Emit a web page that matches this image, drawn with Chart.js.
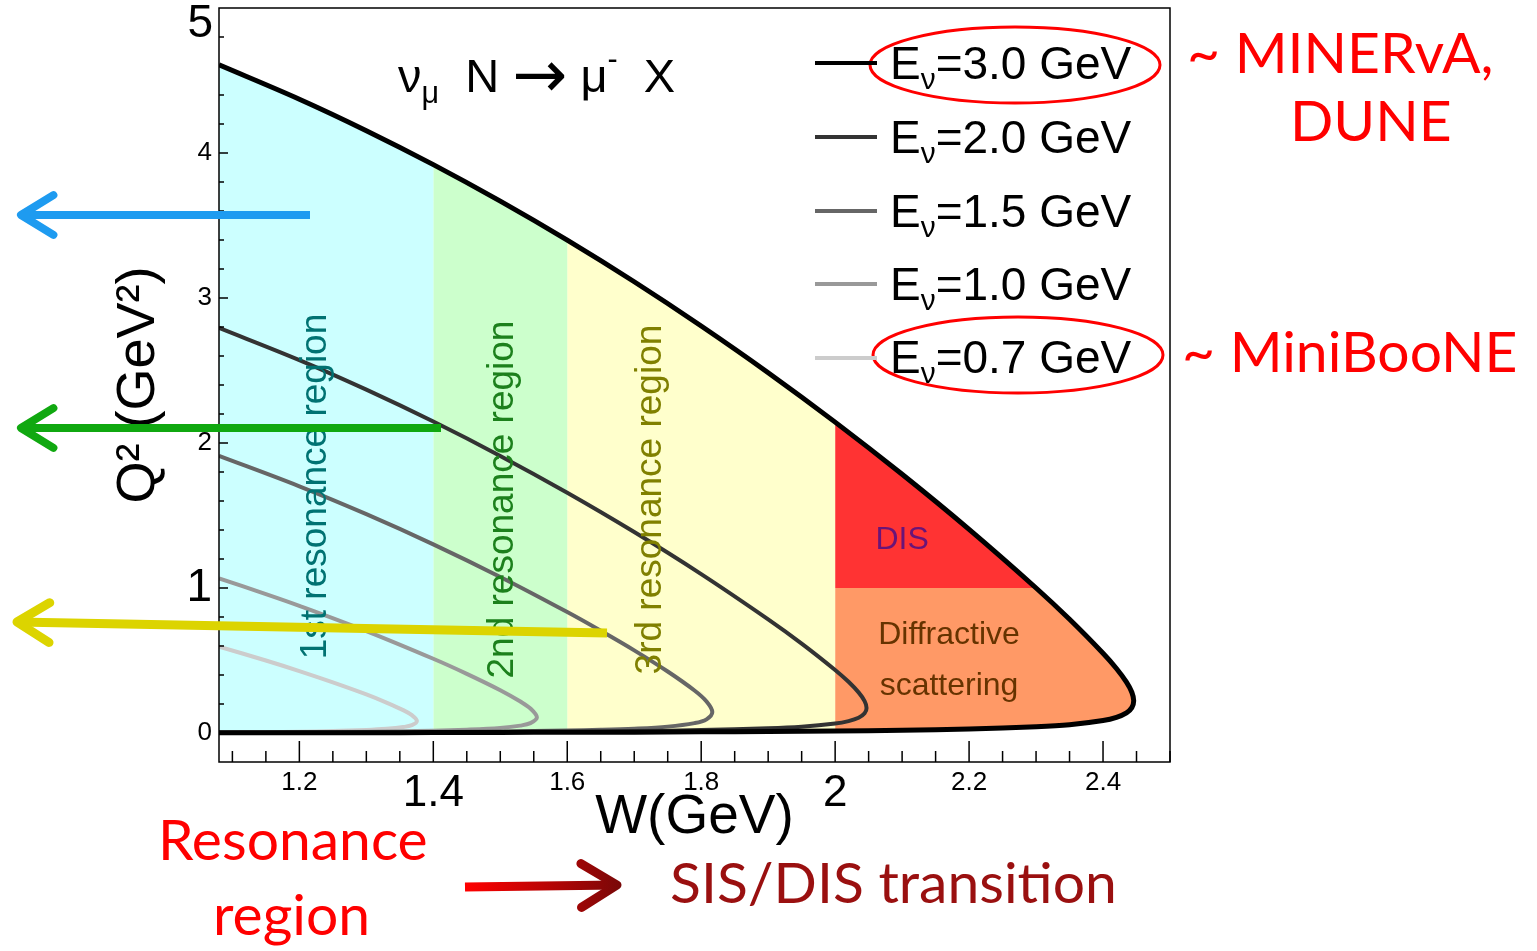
<!DOCTYPE html>
<html>
<head>
<meta charset="UTF-8">
<title>νμ N → μ- X kinematic region</title>
<script src="https://cdn.jsdelivr.net/npm/chart.js"></script>
<style>
  body { margin: 0; background: #fff; }
  #wrap { position: relative; width: 1537px; height: 951px; overflow: hidden; }
  #chart { position: absolute; left: 0; top: 0; }
  .note { position: absolute; white-space: nowrap; line-height: 1; }
  .note sub { font-size: 65%; vertical-align: -0.35em; line-height: 0; }
  .note sup { font-size: 65%; vertical-align: 0.75em; line-height: 0; }
  .note .arr { font-family: "DejaVu Sans", sans-serif; font-size: 140%; vertical-align: -0.08em; line-height: 0; }
  .bl { display: inline-block; width: 0; height: 0; }
  .sw { position: absolute; left: 815px; width: 62px; }
  .helv { font-family: "Liberation Sans", Arial, sans-serif; color: #000; }
  .cal { font-family: Lato, "Open Sans", sans-serif; }
</style>
</head>
<body>
<div id="wrap">
  <canvas id="chart" width="1537" height="951"></canvas>
</div>
<script>
  // kinematic limits (upper / lower Q2 branch) vs W
  const energies = [3.0, 2.0, 1.5, 1.0, 0.7];

  const w30     = [1.08, 1.2, 1.3, 1.4, 1.5, 1.6, 1.7, 1.8, 1.9, 2.0, 2.1, 2.2, 2.3, 2.35, 2.4, 2.42, 2.435, 2.443, 2.4458];
  const q2max30 = [4.608, 4.371, 4.154, 3.920, 3.668, 3.399, 3.112, 2.807, 2.485, 2.144, 1.784, 1.404, 1.000, 0.784, 0.550, 0.445, 0.351, 0.281, 0.222];
  const q2min30 = [0.001, 0.001, 0.002, 0.003, 0.004, 0.005, 0.006, 0.008, 0.011, 0.014, 0.019, 0.027, 0.043, 0.057, 0.086, 0.108, 0.139, 0.175, 0.222];

  const w20     = [1.08, 1.2, 1.3, 1.4, 1.5, 1.6, 1.7, 1.8, 1.9, 1.95, 2.0, 2.02, 2.035, 2.044, 2.0469];
  const q2max20 = [2.794, 2.572, 2.368, 2.148, 1.911, 1.657, 1.386, 1.096, 0.784, 0.617, 0.435, 0.353, 0.280, 0.220, 0.173];
  const q2min20 = [0.001, 0.002, 0.003, 0.005, 0.007, 0.009, 0.013, 0.020, 0.032, 0.043, 0.065, 0.082, 0.105, 0.136, 0.173];

  const w15     = [1.08, 1.2, 1.3, 1.4, 1.5, 1.6, 1.65, 1.7, 1.75, 1.79, 1.808, 1.8166];
  const q2max15 = [1.911, 1.701, 1.509, 1.301, 1.076, 0.834, 0.705, 0.570, 0.424, 0.293, 0.217, 0.144];
  const q2min15 = [0.001, 0.003, 0.005, 0.007, 0.011, 0.017, 0.022, 0.030, 0.044, 0.068, 0.094, 0.144];

  const w10     = [1.08, 1.15, 1.2, 1.3, 1.4, 1.45, 1.5, 1.53, 1.545, 1.5547];
  const q2max10 = [1.066, 0.958, 0.877, 0.703, 0.512, 0.408, 0.295, 0.217, 0.169, 0.108];
  const q2min10 = [0.002, 0.004, 0.005, 0.009, 0.016, 0.023, 0.035, 0.051, 0.068, 0.108];

  const w07     = [1.08, 1.15, 1.2, 1.25, 1.3, 1.33, 1.355, 1.368, 1.3755];
  const q2max07 = [0.596, 0.500, 0.427, 0.349, 0.266, 0.210, 0.158, 0.123, 0.083];
  const q2min07 = [0.003, 0.006, 0.009, 0.013, 0.021, 0.029, 0.041, 0.054, 0.083];

  const xTicks = [1.2, 1.4, 1.6, 1.8, 2.0, 2.2, 2.4];
  const yTicks = [0, 1, 2, 3, 4];
  const regionEdges = [1.08, 1.4, 1.6, 2.0];   // 1st / 2nd / 3rd resonance / W > 2
  const disQ2 = 1.0;                            // DIS above, diffractive below

  const HELV = '"Liberation Sans", Arial, sans-serif';
  const lineColors = ['#000000', '#333333', '#666666', '#999999', '#cccccc'];
  const lineWidths = [5, 4, 4, 4, 4];
  const regionColors = ['#ccffff', '#ccffcc', '#ffffcc', '#ff3333', '#ff9966'];
  const bigX = [1.4, 2.0];
  const bigY = [1];

  const curves = [
    { w: w30, hi: q2max30, lo: q2min30 },
    { w: w20, hi: q2max20, lo: q2min20 },
    { w: w15, hi: q2max15, lo: q2min15 },
    { w: w10, hi: q2max10, lo: q2min10 },
    { w: w07, hi: q2max07, lo: q2min07 }
  ];

  // upper branch left->right, then lower branch back
  function outline(c) {
    const pts = c.w.map((x, i) => ({ x, y: c.hi[i] }));
    for (let i = c.w.length - 2; i >= 0; i--) pts.push({ x: c.w[i], y: c.lo[i] });
    return pts;
  }

  // slice of the 3 GeV region between two W values
  function band(a, b) {
    const idx = w30.map((_, i) => i).filter(i => w30[i] >= a - 1e-9 && w30[i] <= b + 1e-9);
    const top = idx.map(i => ({ x: w30[i], y: q2max30[i] }));
    const bot = idx.slice().reverse().map(i => ({ x: w30[i], y: q2min30[i] }));
    return top.concat(bot);
  }

  const wDis = regionEdges[3];
  const disPts = w30.map((x, i) => ({ x, y: q2max30[i] }))
    .filter(p => p.x >= wDis && p.y >= disQ2);
  disPts.push({ x: wDis, y: disQ2 });

  const diffPts = [{ x: wDis, y: disQ2 }];
  w30.forEach((x, i) => { if (x >= wDis && q2max30[i] <= disQ2) diffPts.push({ x, y: q2max30[i] }); });
  for (let i = w30.length - 2; i >= 0; i--) if (w30[i] >= wDis) diffPts.push({ x: w30[i], y: q2min30[i] });

  const regionData = [
    band(regionEdges[0], regionEdges[1]),
    band(regionEdges[1], regionEdges[2]),
    band(regionEdges[2], regionEdges[3]),
    disPts,
    diffPts
  ];

  const datasets = [];
  regionData.forEach((pts, i) => datasets.push({
    data: pts, showLine: true, fill: 'shape', backgroundColor: regionColors[i],
    borderWidth: 0, pointRadius: 0, tension: 0, order: 2
  }));
  curves.forEach((c, i) => datasets.push({
    label: 'Eν=' + energies[i].toFixed(1) + ' GeV',
    data: outline(c), showLine: true, fill: false, borderColor: lineColors[i],
    borderWidth: lineWidths[i], pointRadius: 0, tension: 0.35, order: 1
  }));

  const overlay = {
    id: 'overlay',
    afterDatasetsDraw(chart) {
      const { ctx, chartArea: a, scales: { x, y } } = chart;
      ctx.save();
      ctx.strokeStyle = '#000';
      ctx.lineWidth = 1.5;
      ctx.beginPath();
      for (let k = 22; k <= 50; k++) {
        const px = x.getPixelForValue(k * 0.05);
        const len = k % 4 === 0 ? 21 : 11;
        ctx.moveTo(px, a.bottom); ctx.lineTo(px, a.bottom - len);
      }
      for (let k = 0; k <= 24; k++) {
        const py = y.getPixelForValue(k * 0.2);
        const len = k % 5 === 0 ? 9 : 5;
        ctx.moveTo(a.left, py); ctx.lineTo(a.left + len, py);
      }
      ctx.stroke();
      ctx.strokeRect(a.left, a.top, a.right - a.left, a.bottom - a.top);

      function vtext(s, wx, qy, color, size) {
        ctx.save();
        ctx.translate(x.getPixelForValue(wx), y.getPixelForValue(qy));
        ctx.rotate(-Math.PI / 2);
        ctx.fillStyle = color;
        ctx.font = size + 'px ' + HELV;
        ctx.textAlign = 'center'; ctx.textBaseline = 'middle';
        ctx.fillText(s, 0, 0);
        ctx.restore();
      }
      function htext(s, wx, qy, color, size) {
        ctx.fillStyle = color;
        ctx.font = size + 'px ' + HELV;
        ctx.textAlign = 'center'; ctx.textBaseline = 'middle';
        ctx.fillText(s, x.getPixelForValue(wx), y.getPixelForValue(qy));
      }
      vtext('1st resonance region', 1.225, 1.70, '#007272', 37);
      vtext('2nd resonance region', 1.5045, 1.61, '#1c801c', 37);
      vtext('3rd resonance region', 1.724, 1.61, '#808000', 37);
      htext('DIS', 2.1, 1.33, '#6a1478', 32);
      htext('Diffractive', 2.17, 0.676, '#663300', 32);
      htext('scattering', 2.17, 0.324, '#663300', 32);

      // enlarged "5" on the y axis
      ctx.fillStyle = '#000';
      ctx.font = '46px ' + HELV;
      ctx.textAlign = 'right'; ctx.textBaseline = 'middle';
      ctx.fillText('5', a.left - 6, y.getPixelForValue(5) + 16);
      ctx.restore();
    },
    afterDraw(chart) {
      const ctx = chart.ctx;
      ctx.save();
      ctx.strokeStyle = '#ff0000';
      ctx.lineWidth = 3;
      ctx.beginPath(); ctx.ellipse(1015, 65, 145, 38, 0, 0, 2 * Math.PI); ctx.stroke();
      ctx.beginPath(); ctx.ellipse(1018, 355, 145, 38, 0, 0, 2 * Math.PI); ctx.stroke();

      function arrow(x0, y0, x1, y1, color, w, head) {
        ctx.strokeStyle = color; ctx.lineWidth = w;
        ctx.lineCap = 'butt';
        ctx.beginPath(); ctx.moveTo(x0, y0); ctx.lineTo(x1, y1); ctx.stroke();
        const ang = Math.atan2(y1 - y0, x1 - x0);
        ctx.lineCap = 'round'; ctx.lineJoin = 'round';
        ctx.beginPath();
        ctx.moveTo(x1 - head * Math.cos(ang - 0.55), y1 - head * Math.sin(ang - 0.55));
        ctx.lineTo(x1, y1);
        ctx.lineTo(x1 - head * Math.cos(ang + 0.55), y1 - head * Math.sin(ang + 0.55));
        ctx.stroke();
      }
      arrow(310, 215, 21, 215, '#1e9bf0', 8, 38);
      arrow(441, 428, 21, 428, '#10a810', 8, 38);
      arrow(607, 633, 17, 622, '#dcd400', 9, 38);

      const g = ctx.createLinearGradient(465, 0, 620, 0);
      g.addColorStop(0, '#ff0000');
      g.addColorStop(1, '#7a0808');
      arrow(465, 887, 617, 885, g, 9, 42);
      ctx.restore();
    }
  };

  Chart.defaults.color = '#000';
  new Chart(document.getElementById('chart'), {
    type: 'scatter',
    data: { datasets },
    options: {
      responsive: false,
      animation: false,
      events: [],
      layout: { padding: { left: 0, top: 8, right: 367, bottom: 0 } },
      plugins: { legend: { display: false }, tooltip: { enabled: false } },
      scales: {
        x: {
          type: 'linear', min: 1.08, max: 2.5,
          grid: { display: false, drawTicks: false },
          border: { display: false },
          afterBuildTicks: s => { s.ticks = xTicks.map(v => ({ value: v })); },
          afterFit: s => { s.height = 189; s.paddingLeft = 0; s.paddingRight = 0; },
          ticks: {
            padding: 5,
            maxRotation: 0,
            autoSkip: false,
            color: '#000',
            font: c => ({ family: HELV, size: c.tick && bigX.includes(c.tick.value) ? 44 : 26 }),
            callback: v => (v === 2 ? '2' : v.toFixed(1))
          },
          title: {
            display: true, text: 'W(GeV)', color: '#000',
            font: { family: HELV, size: 55 },
            padding: { top: 0, bottom: 100 }
          }
        },
        y: {
          type: 'linear', min: -0.2, max: 5.0,
          grid: { display: false, drawTicks: false },
          border: { display: false },
          afterBuildTicks: s => { s.ticks = yTicks.map(v => ({ value: v })); },
          afterFit: s => { s.width = 219; s.paddingTop = 0; s.paddingBottom = 0; },
          ticks: {
            padding: 7,
            color: '#000',
            font: c => ({ family: HELV, size: c.tick && bigY.includes(c.tick.value) ? 46 : 26 }),
            callback: v => String(v)
          },
          title: {
            display: true, text: 'Q² (GeV²)', color: '#000',
            font: { family: HELV, size: 54 },
            padding: { top: 107, bottom: 0 }
          }
        }
      }
    },
    plugins: [overlay]
  });

  // html text placed on its baseline
  const wrap = document.getElementById('wrap');
  function note(html, left, baseline, cls, size, color) {
    const d = document.createElement('div');
    d.className = 'note ' + cls;
    d.style.fontSize = size + 'px';
    if (color) d.style.color = color;
    d.innerHTML = html + '<span class="bl"></span>';
    d.style.left = left + 'px';
    d.style.top = '0px';
    wrap.appendChild(d);
    const off = d.querySelector('.bl').getBoundingClientRect().top - d.getBoundingClientRect().top;
    d.style.top = (baseline - off) + 'px';
    return d;
  }

  // legend
  const legBase = [79, 153, 227, 300, 373];
  const legLine = [63, 137, 211, 284, 358];
  energies.forEach((e, i) => {
    const s = document.createElement('div');
    s.className = 'sw';
    s.style.top = (legLine[i] - 2) + 'px';
    s.style.height = '4px';
    s.style.background = lineColors[i];
    wrap.appendChild(s);
    note('E<sub>ν</sub>=' + e.toFixed(1) + ' GeV', 890, legBase[i], 'helv', 46);
  });

  note('ν<sub>μ</sub>&nbsp; N <span class="arr">→</span> μ<sup>-</sup>&nbsp; X', 398, 92, 'helv', 47);

  note('~ MINERvA,', 1187, 73, 'cal', 57, '#ff0000');
  note('DUNE', 1290, 141, 'cal', 57, '#ff0000');
  note('~ MiniBooNE', 1182, 372, 'cal', 57, '#ff0000');
  note('Resonance', 158, 860, 'cal', 57, '#ff0000');
  note('region', 213, 935, 'cal', 57, '#ff0000');
  note('SIS/DIS transition', 670, 903, 'cal', 57, '#9a1010');
</script>
</body>
</html>
